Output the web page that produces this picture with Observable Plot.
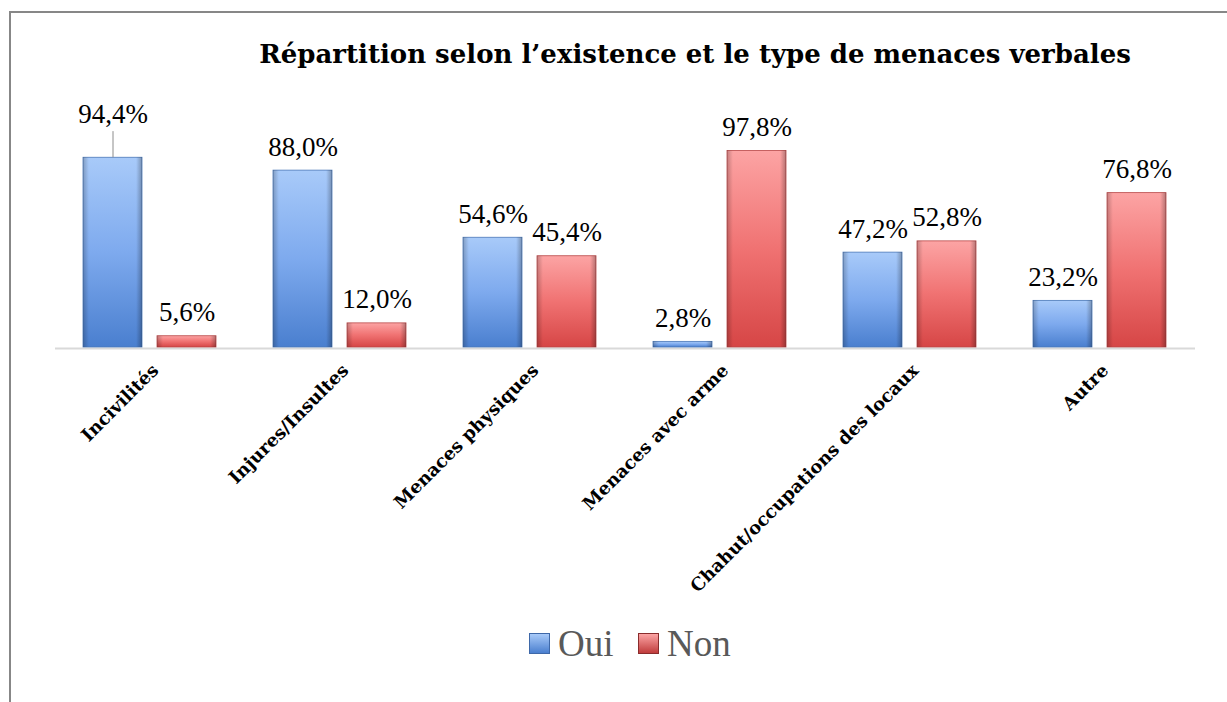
<!DOCTYPE html>
<html>
<head>
<meta charset="utf-8">
<script src="https://cdn.jsdelivr.net/npm/d3@7"></script>
<script src="https://cdn.jsdelivr.net/npm/@observablehq/plot@0.6"></script>
<style>
  html, body { margin: 0; padding: 0; background: #fff; }
  #wrap { position: relative; width: 1227px; height: 702px; overflow: hidden; background: #fff; }
  #frame { position: absolute; left: 9px; top: 11px; right: -10px; bottom: -10px; border-left: 2px solid #878787; border-top: 2px solid #878787; }
  #title { position: absolute; left: 165px; width: 1060px; top: 39px; text-align: center; font-family: "DejaVu Serif", serif; font-weight: bold; font-size: 26px; color: #000; white-space: nowrap; }
  #chart { position: absolute; left: 0; top: 90px; }
  #legend { position: absolute; left: 0; width: 1227px; top: 618px; font-family: "Liberation Serif", serif; font-size: 37px; color: #595959; }
  .item { position: absolute; top: 0; display: flex; align-items: center; height: 50px; }
  .sw { width: 21px; height: 21px; margin-right: 8px; box-sizing: border-box; }
</style>
</head>
<body>
<div id="wrap">
  <div id="frame"></div>
  <div id="title"></div>
  <div id="chart"></div>
  <div id="legend"></div>
</div>
<script>
const titleText = "Répartition selon l’existence et le type de menaces verbales";
const categories = ["Incivilités", "Injures/Insultes", "Menaces physiques", "Menaces avec arme", "Chahut/occupations des locaux", "Autre"];
const series = ["Oui", "Non"];
const oui = [94.4, 88.0, 54.6, 2.8, 47.2, 23.2];
const non = [5.6, 12.0, 45.4, 97.8, 52.8, 76.8];
const leaderLabels = ["Incivilités|Oui"];

const data = categories.flatMap((c, i) => [
  {category: c, serie: "Oui", value: oui[i]},
  {category: c, serie: "Non", value: non[i]}
]);
const fmt = v => v.toFixed(1).replace(".", ",") + "%";
const hasLeader = d => leaderLabels.includes(d.category + "|" + d.serie);

document.getElementById("title").textContent = titleText;

const serifFont = "Liberation Serif";
const labelStyle = {fx: "category", x: "serie", y: "value", text: d => fmt(d.value), fontFamily: serifFont, fontSize: 27, fill: "#000", lineAnchor: "bottom"};
const chart = Plot.plot({
  width: 1227,
  height: 510,
  marginLeft: 55,
  marginRight: 32,
  marginTop: 56,
  marginBottom: 253,
  style: {background: "transparent", overflow: "visible"},
  fx: {domain: categories, padding: 0, axis: null},
  x: {domain: series, paddingInner: 0.2027, paddingOuter: 0.385, axis: null},
  y: {domain: [0, 100], axis: null},
  marks: [
    Plot.ruleY([0], {stroke: "#d9d9d9", strokeWidth: 2, dy: 1}),
    Plot.barY(data.filter(d => d.serie === "Oui"), {fx: "category", x: "serie", y: "value", fill: "url(#gOui)", stroke: "#4a78b8", strokeWidth: 0.8}),
    Plot.barY(data.filter(d => d.serie === "Non"), {fx: "category", x: "serie", y: "value", fill: "url(#gNon)", stroke: "#b84848", strokeWidth: 0.8}),
    Plot.barY(data, {fx: "category", x: "serie", y: "value", fill: "url(#gEdge)"}),
    Plot.ruleX(data.filter(hasLeader), {fx: "category", x: "serie", y1: "value", y2: d => d.value + 13, stroke: "#8c8c8c", strokeWidth: 1}),
    Plot.text(data.filter(d => !hasLeader(d)), {...labelStyle, dy: -15}),
    Plot.text(data.filter(hasLeader), {...labelStyle, dy: -35}),
    Plot.text(categories, {fx: d => d, text: d => d, frameAnchor: "bottom", rotate: -45, textAnchor: "end", lineAnchor: "middle", dx: 5, dy: 20, fontFamily: "DejaVu Serif", fontWeight: "bold", fontSize: 18, fill: "#000"})
  ]
});

const defs = d3.select(chart).insert("defs", ":first-child");
function vgrad(id, stops) {
  const g = defs.append("linearGradient").attr("id", id).attr("x1", 0).attr("y1", 0).attr("x2", 0).attr("y2", 1);
  stops.forEach(([o, c]) => g.append("stop").attr("offset", o).attr("stop-color", c));
}
vgrad("gOui", [[0, "#a8caf9"], [0.5, "#7eaaee"], [1, "#4a7fcf"]]);
vgrad("gNon", [[0, "#fca4a4"], [0.5, "#f07272"], [1, "#d64646"]]);
const ge = defs.append("linearGradient").attr("id", "gEdge").attr("x1", 0).attr("y1", 0).attr("x2", 1).attr("y2", 0);
[[0, "#000", 0.22], [0.1, "#000", 0.0], [0.9, "#000", 0.0], [1, "#000", 0.28]].forEach(([o, c, a]) =>
  ge.append("stop").attr("offset", o).attr("stop-color", c).attr("stop-opacity", a));

document.getElementById("chart").appendChild(chart);

// Legend
const legend = document.getElementById("legend");
const legendItems = [
  {name: "Oui", grad: "linear-gradient(#a8caf9, #4a7fcf)", border: "#3e68a8", left: 529},
  {name: "Non", grad: "linear-gradient(#fca4a4, #c03c3c)", border: "#8a2c2c", left: 638}
];
legendItems.forEach(it => {
  const el = document.createElement("div");
  el.className = "item";
  el.style.left = it.left + "px";
  const sw = document.createElement("div");
  sw.className = "sw";
  sw.style.background = it.grad;
  sw.style.border = "1px solid " + it.border;
  const tx = document.createElement("span");
  tx.textContent = it.name;
  el.appendChild(sw);
  el.appendChild(tx);
  legend.appendChild(el);
});
</script>
</body>
</html>
